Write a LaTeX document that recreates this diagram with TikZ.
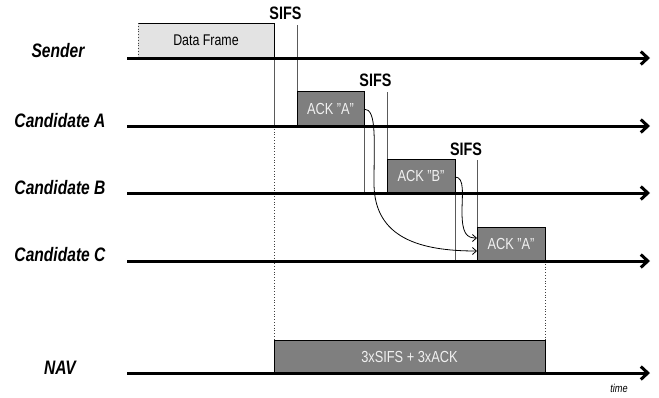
\documentclass[tikz,border=0pt]{standalone}
\usepackage{fontspec}
\setmainfont{Liberation Sans}[FakeStretch=0.8]
\usetikzlibrary{arrows.meta}
\definecolor{lightbox}{HTML}{E3E3E3}
\definecolor{darkbox}{HTML}{7F7F7F}
\definecolor{vline}{HTML}{5A5A5A}
\definecolor{boxtext}{HTML}{F0F0F0}
\tikzset{
  timeline/.style={line width=3pt,-{Straight Barb[length=7pt,width=13pt]}},
  rowlabel/.style={font=\fontsize{19.5}{20}\selectfont\bfseries\itshape,anchor=base},
  sifslabel/.style={font=\fontsize{18}{19}\selectfont\bfseries,anchor=base},
  darkframe/.style={draw=black,line width=0.9pt,fill=darkbox,text=boxtext,inner sep=0pt,outer sep=0pt,
    font=\fontsize{16}{17}\selectfont},
  gap/.style={draw=vline,line width=1pt},
  dotline/.style={draw=black!75,line width=0.8pt,dotted},
  handover/.style={line width=0.8pt,-{Straight Barb[length=4pt,width=7pt]}},
}
\begin{document}
\begin{tikzpicture}[x=1pt,y=-1pt]
\useasboundingbox (0,0) rectangle (659,397);
% row labels
\node[rowlabel] (lS) at (58,57) {Sender};
\node[rowlabel] (lA) at (60,127) {Candidate A};
\node[rowlabel] (lB) at (60,194) {Candidate B};
\node[rowlabel] (lC) at (60,261) {Candidate C};
\node[rowlabel] (lN) at (60,374) {NAV};
% timeline endpoints
\coordinate (s0) at (127,58);  \coordinate (s1) at (650,58);
\coordinate (a0) at (127,126); \coordinate (a1) at (650,126);
\coordinate (b0) at (127,193); \coordinate (b1) at (650,193);
\coordinate (c0) at (127,261); \coordinate (c1) at (650,261);
\coordinate (n0) at (127,373); \coordinate (n1) at (650,373);
% data frame
\fill[lightbox] (138,23) rectangle (274,58);
\coordinate (dfTL) at (138,23); \coordinate (dfTR) at (274,23);
\coordinate (dfBL) at (138,58); \coordinate (dfBR) at (274,58);
\draw[line width=0.9pt] (dfTL) -- (dfTR) -- (dfBR);
\draw[dotline] (dfTL) -- (dfBL);
\node[font=\fontsize{15.5}{16}\selectfont,inner sep=0pt] (df) at (206,40.5) {Data Frame};
% ack boxes
\node[darkframe,minimum width=67pt,minimum height=35pt] (ackA) at (330.5,108.5) {ACK "A"};
\node[darkframe,minimum width=68pt,minimum height=34pt] (ackB) at (421,176) {ACK "B"};
\node[darkframe,minimum width=68pt,minimum height=34pt] (ackC) at (511,244) {ACK "A"};
\node[darkframe,minimum width=271pt,minimum height=33pt] (nav) at (409.5,356.5) {3xSIFS + 3xACK};
% SIFS gaps
\coordinate (g1a) at (274,126);
\coordinate (g1b) at (297,25);
\draw[gap] (dfBR) -- (g1a);
\draw[gap] (g1b) -- (ackA.north west);
\draw[gap] (ackA.south east) -- (ackA.south east |- b0);
\coordinate (g2b) at (387,92);
\draw[gap] (g2b) -- (ackB.north west);
\draw[gap] (ackB.south east) -- (ackB.south east |- c0);
\coordinate (g3b) at (477,160);
\draw[gap] (g3b) -- (ackC.north west);
\node[sifslabel] (sifs1) at (285.5,19) {SIFS};
\node[sifslabel] (sifs2) at (375.5,86) {SIFS};
\node[sifslabel] (sifs3) at (466,155) {SIFS};
% dotted NAV bounds
\draw[dotline] (g1a) -- (nav.north west);
\draw[dotline] (ackC.south east) -- (nav.north east);
% timelines
\draw[timeline] (s0) -- (s1);
\draw[timeline] (a0) -- (a1);
\draw[timeline] (b0) -- (b1);
\draw[timeline] (c0) -- (c1);
\draw[timeline] (n0) -- (n1);
% handover curves
\draw[handover] (ackA.east |- 0,109) .. controls (377,109) and (374,140) .. (374,185)
  .. controls (375,238) and (420,251) .. (ackC.west |- 0,251);
\draw[handover] (ackB.east |- 0,177) .. controls (465,177) and (462,195) .. (462,212)
  .. controls (462,234) and (467,238) .. (ackC.west |- 0,238);
% time label
\node[font=\fontsize{11.5}{12}\selectfont\itshape,anchor=base] (time) at (619,392) {time};
\end{tikzpicture}
\end{document}
